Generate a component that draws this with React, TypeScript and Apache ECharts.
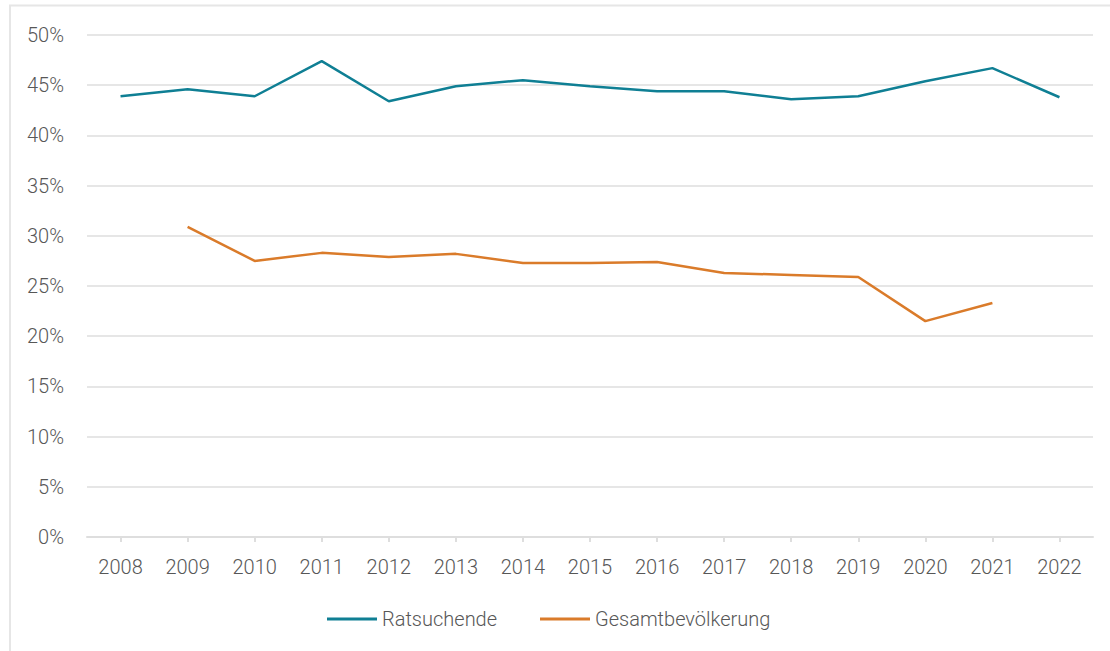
import React, { useEffect, useRef } from "react";
import * as echarts from "echarts";

const years = ["2008","2009","2010","2011","2012","2013","2014","2015","2016","2017","2018","2019","2020","2021","2022"];
const ratsuchende = [43.9, 44.6, 43.9, 47.4, 43.4, 44.9, 45.5, 44.9, 44.4, 44.4, 43.6, 43.9, 45.4, 46.7, 43.8];
const gesamt = [null, 30.9, 27.5, 28.3, 27.9, 28.2, 27.3, 27.3, 27.4, 26.3, 26.1, 25.9, 21.5, 23.3, null];
const seriesNames = ["Ratsuchende", "Gesamtbevölkerung"];
const yTicks = { min: 0, max: 50, interval: 5 };

const FONT = "Roboto";
const TEXT = "#575757";

const legendBase = {
  bottom: 17,
  icon: "rect",
  itemWidth: 50,
  itemHeight: 3,
  textStyle: { color: TEXT, fontFamily: FONT, fontWeight: 300, fontSize: 20 },
};

export default function App() {
  const ref = useRef<HTMLDivElement>(null);
  useEffect(() => {
    if (!ref.current) return;
    const chart = echarts.init(ref.current, null, { renderer: "svg" });
    chart.setOption({
      animation: false,
      backgroundColor: "#ffffff",
      graphic: [
        {
          type: "rect",
          shape: { x: 10, y: 5.5, width: 1300, height: 1000 },
          style: { fill: "none", stroke: "#e6e6e6", lineWidth: 2 },
          silent: true,
          z: -10,
        },
      ],
      grid: { left: 87, right: 17, top: 35, bottom: 114, containLabel: false },
      xAxis: {
        type: "category",
        data: years,
        boundaryGap: true,
        axisLine: { lineStyle: { color: "#dedede", width: 2 } },
        axisTick: { show: true, alignWithLabel: true, length: 5, lineStyle: { color: "#dedede", width: 2 } },
        axisLabel: { color: TEXT, fontFamily: FONT, fontWeight: 300, fontSize: 20, margin: 20 },
      },
      yAxis: {
        type: "value",
        min: yTicks.min,
        max: yTicks.max,
        interval: yTicks.interval,
        axisLine: { show: false },
        axisTick: { show: false },
        splitLine: { lineStyle: { color: "#e6e6e6", width: 2 } },
        axisLabel: { formatter: "{value}%", color: TEXT, fontFamily: FONT, fontWeight: 300, fontSize: 20, margin: 23 },
      },
      legend: [
        { ...legendBase, left: 322, data: [seriesNames[0]] },
        { ...legendBase, left: 535, data: [seriesNames[1]] },
      ],
      series: [
        {
          name: seriesNames[0],
          type: "line",
          data: ratsuchende,
          showSymbol: false,
          symbol: "none",
          lineStyle: { color: "#0f7f94", width: 2.5 },
          itemStyle: { color: "#0f7f94" },
        },
        {
          name: seriesNames[1],
          type: "line",
          data: gesamt,
          showSymbol: false,
          symbol: "none",
          connectNulls: false,
          lineStyle: { color: "#da7b2a", width: 2.5 },
          itemStyle: { color: "#da7b2a" },
        },
      ],
    });
    return () => chart.dispose();
  }, []);
  return (
    <div
      ref={ref}
      style={{ position: "fixed", left: 0, top: 0, width: 1110, height: 651 }}
    />
  );
}
